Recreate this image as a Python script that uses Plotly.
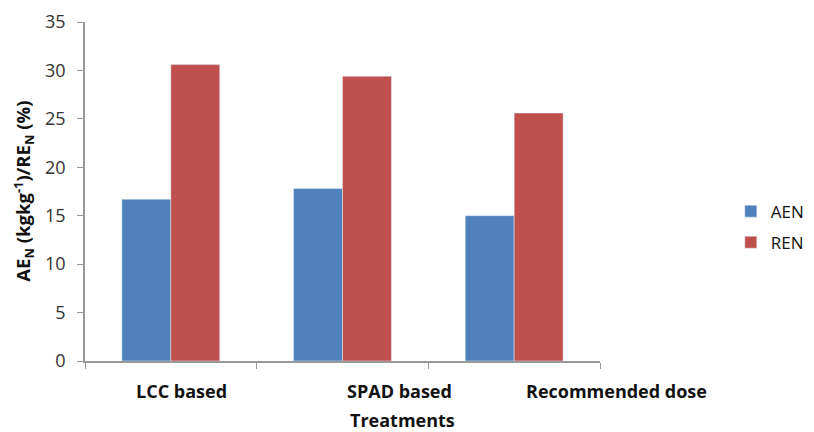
import plotly.graph_objects as go

categories = ["LCC based", "SPAD based", "Recommended dose"]
aen = [16.7, 17.8, 15.0]
ren = [30.6, 29.4, 25.6]
y_ticks = [0, 5, 10, 15, 20, 25, 30, 35]
label_shift = [11, 57, 102]

font_family = "Open Sans, Liberation Sans, sans-serif"

fig = go.Figure()
fig.add_trace(go.Bar(name="AEN", x=categories, y=aen, marker_color="#4F81BD", legendgroup="a"))
fig.add_trace(go.Bar(name="REN", x=categories, y=ren, marker_color="#C0504D", legendgroup="b"))

annotations = [
    dict(text="<b>AE<sub>N</sub> (kgkg<sup>-1</sup>)/RE<sub>N</sub> (%)</b>",
         xref="paper", yref="paper", x=-0.12, y=0.5, xanchor="center", yanchor="middle",
         textangle=-90, showarrow=False, font=dict(size=18.5, color="#111111")),
    dict(text="<b>Treatments</b>", xref="paper", yref="paper", x=0.617, y=-0.174,
         xanchor="center", yanchor="middle", showarrow=False,
         font=dict(size=18, color="#111111")),
]
for i, (c, s) in enumerate(zip(categories, label_shift)):
    annotations.append(dict(text=f"<b>{c}</b>", xref="x", yref="paper", x=i, y=-0.048,
                            xanchor="center", yanchor="top", xshift=s, showarrow=False,
                            font=dict(size=18, color="#111111")))

fig.update_layout(
    width=814, height=432,
    margin=dict(l=85, r=214, t=22, b=71, autoexpand=False),
    paper_bgcolor="white", plot_bgcolor="white",
    barmode="group", bargap=0.43, bargroupgap=0,
    font=dict(family=font_family, color="#222222"),
    legend=dict(x=1.254, y=0.395, xanchor="left", yanchor="middle",
                font=dict(size=17, color="#111111"), itemwidth=30,
                tracegroupgap=6, traceorder="grouped"),
    annotations=annotations,
)
fig.update_xaxes(
    type="category", categoryorder="array", categoryarray=categories,
    range=[-0.5, len(categories) - 0.5],
    automargin=False, tickangle=0, showticklabels=False,
    showline=True, linecolor="#999999", linewidth=1.5,
    tickson="boundaries", ticks="outside", ticklen=6, tickcolor="#999999",
    showgrid=False,
)
fig.update_yaxes(
    automargin=False,
    range=[0, 35], tickvals=y_ticks,
    showline=True, linecolor="#999999", linewidth=1.5,
    ticks="outside", ticklen=6, tickcolor="#999999",
    tickfont=dict(size=18, color="#333333"),
    ticklabelstandoff=8,
    showgrid=False, zeroline=False,
)

fig.write_html("out.html", config={"displayModeBar": False},
               post_script="document.body.style.margin='0';")
